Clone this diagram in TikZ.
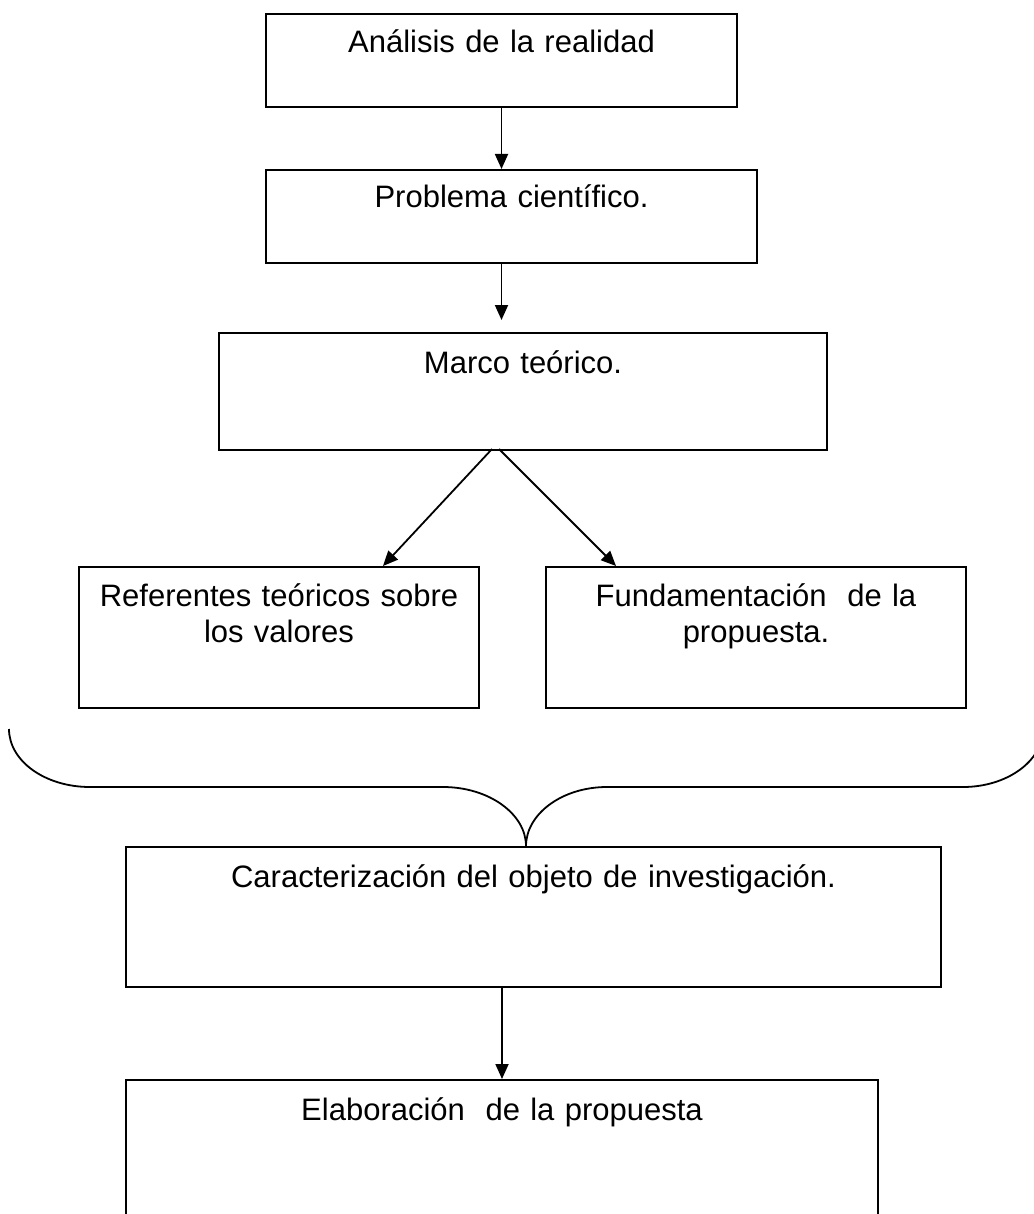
\documentclass[tikz,border=0pt]{standalone}
\usepackage{fontspec}
\setmainfont{Liberation Sans}
\usetikzlibrary{arrows.meta}

\begin{document}
\begin{tikzpicture}
  [x=1pt,y=-1pt,line width=2pt,
   every node/.style={draw,rectangle,anchor=north,inner sep=0pt,align=center,
     font=\fontsize{31}{36}\selectfont},
   flecha/.style={-{Triangle[length=15pt,width=13pt]},line width=1.8pt}]
  \useasboundingbox (0,0) rectangle (1033,1214);
  \node[text width=471pt,text height=39pt,text depth=54pt] (n1) at (501.5,13)  {Análisis de la realidad};
  \node[text width=491pt,text height=38pt,text depth=55pt] (n2) at (511.5,169) {Problema científico.};
  \node[text width=608pt,text height=40pt,text depth=77pt] (n3) at (523,332)   {Marco teórico.};
  \node[text width=400pt,text height=39pt,text depth=102pt] (n4) at (279,566)  {Referentes teóricos sobre\\los valores};
  \node[text width=420pt,text height=39pt,text depth=102pt] (n5) at (756,566)  {Fundamentación~ de la\\propuesta.};
  \node[text width=815pt,text height=40pt,text depth=100pt] (n6) at (533.5,846) {Caracterización del objeto de investigación.};
  \node[text width=752pt,text height=40pt,text depth=130pt] (n7) at (502,1079)  {Elaboración~ de la propuesta};
  \coordinate (e2) at (n2.north -| n1.south);
  \coordinate (f2) at (n2.south -| n1.south);
  \coordinate (f3) at (501.5,320);
  \coordinate (s3a) at (492,449);
  \coordinate (e4) at (383,566);
  \coordinate (s3b) at (499,449);
  \coordinate (e5) at (616,566);
  \coordinate (s6) at (n6.south -| n7.north);
  \coordinate (llave) at (526,846);
\foreach \from/\to in
{n1.south/e2, f2/f3, s3a/e4, s3b/e5, s6/n7.north}
    \draw[flecha] (\from) -- (\to);

  % llave
  \draw[line width=1.8pt] (9,729) .. controls (9,761) and (45,787) .. (90,787) -- (443,787)
    .. controls (489,787) and (526,814) .. (llave)
    .. controls (526,814) and (562,787) .. (607,787) -- (963,787)
    .. controls (1007,787) and (1043,761) .. (1043,729);
\end{tikzpicture}
\end{document}
